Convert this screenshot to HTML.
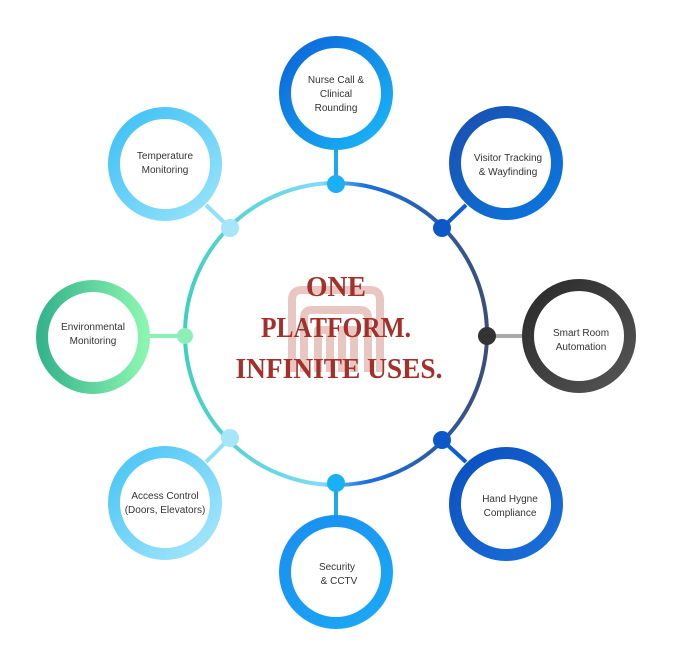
<!DOCTYPE html>
<html><head><meta charset="utf-8"><style>
html,body{margin:0;padding:0;background:#fff;}
svg{display:block}
.s{font-family:"Liberation Sans",sans-serif;}
.serif{font-family:"Liberation Serif",serif;}
</style></head><body>
<svg width="674" height="657" viewBox="0 0 674 657" xmlns="http://www.w3.org/2000/svg">
<defs>
<linearGradient id="main" x1="0" y1="0" x2="1" y2="0">
<stop offset="0" stop-color="#3fd0c0"/><stop offset="0.45" stop-color="#7fdcf5"/><stop offset="0.6" stop-color="#1a6fe0"/><stop offset="1" stop-color="#3a4e78"/></linearGradient>
<linearGradient id="gNurse" x1="0" y1="0" x2="1" y2="1"><stop offset="0" stop-color="#0b64d8"/><stop offset="1" stop-color="#1ab8f8"/></linearGradient>
<linearGradient id="gTemp" x1="0" y1="0" x2="1" y2="1"><stop offset="0" stop-color="#3cc0f5"/><stop offset="1" stop-color="#9ae4fb"/></linearGradient>
<linearGradient id="gVis" x1="0" y1="0" x2="1" y2="1"><stop offset="0" stop-color="#1a4fb0"/><stop offset="1" stop-color="#0a78e0"/></linearGradient>
<linearGradient id="gEnv" x1="0" y1="0" x2="1" y2="0"><stop offset="0" stop-color="#36b48c"/><stop offset="1" stop-color="#8af5b0"/></linearGradient>
<linearGradient id="gSmart" x1="0" y1="0" x2="1" y2="1"><stop offset="0" stop-color="#2a2a2a"/><stop offset="1" stop-color="#555"/></linearGradient>
<linearGradient id="gAcc" x1="0" y1="0" x2="1" y2="1"><stop offset="0" stop-color="#46c4f5"/><stop offset="1" stop-color="#a8e8fb"/></linearGradient>
<linearGradient id="gHand" x1="0" y1="0" x2="1" y2="1"><stop offset="0" stop-color="#0b50c0"/><stop offset="1" stop-color="#1a70d8"/></linearGradient>
<linearGradient id="gSec" x1="0" y1="0" x2="1" y2="1"><stop offset="0" stop-color="#1a8ef0"/><stop offset="1" stop-color="#1aaaf5"/></linearGradient>
</defs>

<g stroke-width="4">
<line x1="336" y1="150" x2="336" y2="184" stroke="#1aa8f0"/>
<line x1="336" y1="483" x2="336" y2="520" stroke="#1aa8f0"/>
<line x1="206" y1="205" x2="230" y2="228" stroke="#8fe0fa"/>
<line x1="466" y1="205" x2="442" y2="228" stroke="#0d5fd0"/>
<line x1="150" y1="336" x2="185" y2="336" stroke="#8af0b8"/>
<line x1="487" y1="336" x2="522" y2="336" stroke="#aaa"/>
<line x1="206" y1="462" x2="230" y2="438" stroke="#8fe0fa"/>
<line x1="466" y1="462" x2="442" y2="440" stroke="#0d5fd0"/>
</g>

<circle cx="336" cy="334" r="151" fill="none" stroke="url(#main)" stroke-width="4"/>

<g fill="none" stroke="#e8c6c2" stroke-width="8" stroke-linejoin="round">
<path d="M292 372 V300 Q292 290 302 290 H370 Q380 290 380 300 V372"/>
<path d="M304 372 V318 Q304 310 312 310 H360 Q368 310 368 318 V372 M318 372 V330 H330 V372 M342 372 V330 H354 V372"/>
</g>
<circle cx="303" cy="328" r="4" fill="#b8c0c8" opacity="0.6"/>

<g class="serif" font-weight="bold" fill="#a3302a" text-anchor="middle" font-size="29">
<text x="336" y="296" textLength="60" lengthAdjust="spacingAndGlyphs">ONE</text>
<text x="336" y="337" textLength="150" lengthAdjust="spacingAndGlyphs">PLATFORM.</text>
<text x="339" y="378" textLength="207" lengthAdjust="spacingAndGlyphs">INFINITE USES.</text>
</g>

<circle cx="336" cy="184" r="9" fill="#1ab0f5"/>
<circle cx="230" cy="228" r="9" fill="#a5e6fb"/>
<circle cx="442" cy="228" r="9" fill="#0d58c8"/>
<circle cx="185" cy="336" r="8" fill="#8af0b8"/>
<circle cx="487" cy="336" r="9" fill="#333"/>
<circle cx="230" cy="438" r="9" fill="#a5e6fb"/>
<circle cx="442" cy="440" r="9" fill="#0d58c8"/>
<circle cx="336" cy="483" r="9" fill="#1ab0f5"/>

<g fill="#fff" stroke-width="12">
<circle cx="336" cy="93" r="51" stroke="url(#gNurse)"/>
<circle cx="165" cy="164" r="51" stroke="url(#gTemp)"/>
<circle cx="506" cy="163" r="51" stroke="url(#gVis)"/>
<circle cx="93" cy="337" r="51" stroke="url(#gEnv)"/>
<circle cx="579" cy="336" r="51" stroke="url(#gSmart)"/>
<circle cx="165" cy="503" r="51" stroke="url(#gAcc)"/>
<circle cx="506" cy="504" r="51" stroke="url(#gHand)"/>
<circle cx="336" cy="572" r="51" stroke="url(#gSec)"/>
</g>

<g class="s" font-size="10" fill="#333" text-anchor="middle">
<text x="336" y="83">Nurse Call &amp;</text><text x="336" y="97">Clinical</text><text x="336" y="111">Rounding</text>
<text x="165" y="159">Temperature</text><text x="165" y="173">Monitoring</text>
<text x="508" y="161">Visitor Tracking</text><text x="508" y="175">&amp; Wayfinding</text>
<text x="93" y="330">Environmental</text><text x="93" y="344">Monitoring</text>
<text x="581" y="336">Smart Room</text><text x="581" y="350">Automation</text>
<text x="165" y="499">Access Control</text><text x="165" y="513">(Doors, Elevators)</text>
<text x="510" y="502">Hand Hygne</text><text x="510" y="516">Compliance</text>
<text x="337" y="570">Security</text><text x="339" y="584">&amp; CCTV</text>
</g>
</svg>
</body></html>
